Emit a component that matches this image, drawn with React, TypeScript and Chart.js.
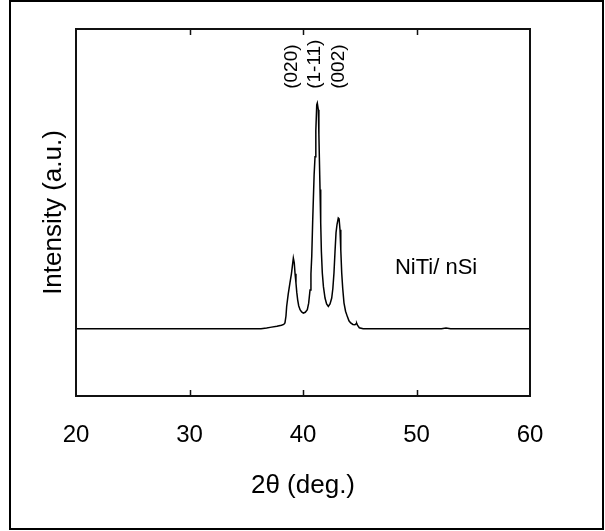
import React, { useEffect, useRef } from "react";
import { Chart, registerables } from "chart.js";

Chart.register(...registerables);

const twoTheta = [
  20.0, 36.3, 36.8, 37.1, 37.7, 38.1, 38.3, 38.41, 38.5, 38.56, 38.7, 38.85, 38.98, 39.06, 39.15,
  39.23, 39.3, 39.38, 39.45, 39.53, 39.62, 39.74, 39.88, 40.03, 40.2, 40.38, 40.5, 40.62, 40.7,
  40.77, 40.85, 40.91, 40.98, 41.06, 41.13, 41.21, 41.26, 41.35, 41.4, 41.44, 41.5, 41.56, 41.62,
  41.7, 41.8, 41.94, 42.08, 42.23, 42.38, 42.53, 42.63, 42.73, 42.82, 42.91, 43.0, 43.11, 43.18,
  43.26, 43.33, 43.41, 43.5, 43.61, 43.75, 43.9, 44.05, 44.2, 44.4, 44.58, 44.68, 44.73, 44.8,
  44.96, 45.3, 52.2, 52.6, 53.0, 60.0,
];
const intensity = [
  0, 0, 2, 4, 7, 10, 12, 16, 35, 61, 95, 125, 150, 170, 193,
  180, 150, 125, 100, 79, 63, 52, 46, 43, 45, 52, 70, 106, 150,
  197, 290, 351, 420, 469, 540, 610, 615, 597, 530, 469, 380, 289, 210,
  153, 115, 84, 68, 61, 68, 84, 110, 153, 210, 262, 285, 302, 300,
  270, 215, 153, 110, 71, 48, 34, 22, 16, 12, 11, 14, 15, 10,
  3, 0, 0, 2, 0, 0,
];

const xTickValues = [20, 30, 40, 50, 60];
const peakLabels = ["(020)", "(1-11)", "(002)"];
const peakLabelX = [39.0, 41.0, 43.17];
const peakLabelY = 654;
const sampleLabel = "NiTi/ nSi";
const sampleLabelX = 48.1;
const sampleLabelY = 167;
const yMin = -183;
const yMax = 817;

const FONT = "'Liberation Sans', Arial, Helvetica, sans-serif";

const decorPlugin = {
  id: "decor",
  afterDraw(chart: any) {
    const ctx = chart.ctx;
    const { left, right, top, bottom } = chart.chartArea;
    const xs = chart.scales.x;
    const ys = chart.scales.y;
    ctx.save();
    ctx.strokeStyle = "#000";
    ctx.lineWidth = 2;
    ctx.strokeRect(10, 1, 593, 528);
    ctx.lineWidth = 2;
    ctx.strokeStyle = "#111";
    ctx.strokeRect(left, top, right - left, bottom - top);
    ctx.lineWidth = 1.5;
    xTickValues.forEach((v) => {
      if (v === xs.min || v === xs.max) return;
      const px = Math.round(xs.getPixelForValue(v)) + 0.5;
      ctx.beginPath();
      ctx.moveTo(px, bottom);
      ctx.lineTo(px, bottom - 6);
      ctx.moveTo(px, top);
      ctx.lineTo(px, top + 6);
      ctx.stroke();
    });
    ctx.fillStyle = "#000";
    ctx.font = `19px ${FONT}`;
    ctx.textAlign = "left";
    ctx.textBaseline = "middle";
    peakLabels.forEach((t, i) => {
      const px = xs.getPixelForValue(peakLabelX[i]);
      const py = ys.getPixelForValue(peakLabelY);
      ctx.save();
      ctx.translate(px, py);
      ctx.rotate(-Math.PI / 2);
      ctx.fillText(t, 0, 0);
      ctx.restore();
    });
    ctx.font = `22px ${FONT}`;
    ctx.textAlign = "left";
    ctx.textBaseline = "middle";
    ctx.fillText(sampleLabel, xs.getPixelForValue(sampleLabelX), ys.getPixelForValue(sampleLabelY));
    ctx.restore();
  },
};

export default function App() {
  const ref = useRef<HTMLCanvasElement>(null);
  useEffect(() => {
    if (!ref.current) return;
    const chart = new Chart(ref.current, {
      type: "line",
      data: {
        datasets: [
          {
            data: twoTheta.map((x, i) => ({ x, y: intensity[i] })),
            borderColor: "#000",
            borderWidth: 1.5,
            pointRadius: 0,
            tension: 0,
            fill: false,
          },
        ],
      },
      options: {
        animation: false,
        responsive: false,
        devicePixelRatio: 1,
        layout: { padding: { left: 0, right: 75, top: 29, bottom: 0 } },
        plugins: { legend: { display: false }, tooltip: { enabled: false } },
        scales: {
          x: {
            type: "linear",
            min: 20,
            max: 60,
            afterBuildTicks: (s: any) => {
              s.ticks = xTickValues.map((v) => ({ value: v }));
            },
            afterFit: (s: any) => {
              s.height = 135;
            },
            grid: { display: false },
            border: { display: false },
            ticks: {
              color: "#000",
              font: { family: FONT, size: 24 },
              padding: 17,
              maxRotation: 0,
            },
            title: {
              display: true,
              text: "2θ (deg.)",
              color: "#000",
              font: { family: FONT, size: 26 },
              padding: { top: 0, bottom: 30 },
            },
          },
          y: {
            type: "linear",
            min: yMin,
            max: yMax,
            afterFit: (s: any) => {
              s.width = 76;
            },
            grid: { display: false },
            border: { display: false },
            ticks: { display: false },
            title: {
              display: true,
              text: "Intensity (a.u.)",
              color: "#000",
              font: { family: FONT, size: 26 },
              padding: { top: 38, bottom: 0 },
            },
          },
        },
      },
      plugins: [decorPlugin],
    });
    return () => chart.destroy();
  }, []);
  return (
    <div style={{ position: "fixed", left: 0, top: 0, width: 605, height: 531, background: "#fff" }}>
      <canvas ref={ref} width={605} height={531} style={{ display: "block" }} />
    </div>
  );
}
